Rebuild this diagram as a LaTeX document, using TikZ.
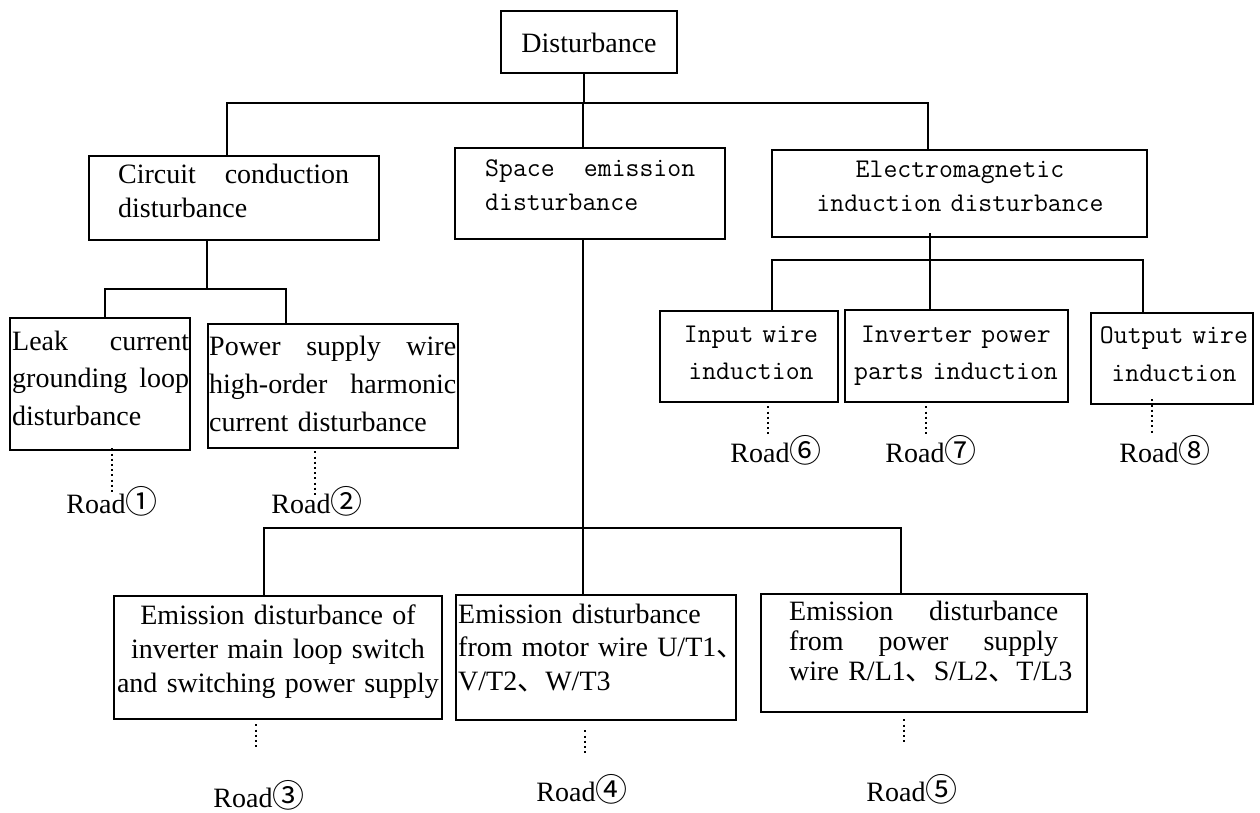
\documentclass[tikz,border=0pt]{standalone}
\usepackage{fontspec}
\setmainfont{Liberation Serif}
\newfontfamily\cjk{Noto Sans CJK SC}
\newcommand\ideocomma{{\cjk 、}}
\newcommand\cnum[1]{{\cjk\fontsize{32}{32}\selectfont #1}}
% a line spread out to a given width
\newcommand\spread[2]{\leavevmode\hbox to #1pt{#2}}
\begin{document}
\begin{tikzpicture}[x=1pt,y=-1pt,
  box/.style={draw,line width=2.6pt,inner sep=0pt},
  conn/.style={line width=2.8pt},
  dots/.style={line width=2pt,dash pattern=on 2pt off 3.2pt},
  serif/.style={inner sep=0pt,font=\fontsize{28}{#1}\selectfont},
  mono/.style={inner sep=0pt,font=\ttfamily\fontsize{27}{#1}\selectfont},
  road/.style={inner sep=0pt,anchor=base,font=\fontsize{28}{34}\selectfont}]
\fill[white] (0,0) rectangle (1260,813);
\useasboundingbox (0,0) rectangle (1260,813);

% ---------- boxes ----------
\node[box,minimum width=176,minimum height=62]  (dist)  at (589,42)    {};
\node[box,minimum width=290,minimum height=84]  (circ)  at (234,198)   {};
\node[box,minimum width=270,minimum height=91]  (space) at (590,193.5) {};
\node[box,minimum width=375,minimum height=87]  (em)    at (959.5,193.5) {};
\node[box,minimum width=180,minimum height=132] (leak)  at (100,384)   {};
\node[box,minimum width=250,minimum height=124] (power) at (333,386)   {};
\node[box,minimum width=178,minimum height=91]  (inp)   at (749,356.5) {};
\node[box,minimum width=223,minimum height=92]  (inv)   at (956.5,356) {};
\node[box,minimum width=162,minimum height=91]  (outp)  at (1172,358.5) {};
\node[box,minimum width=328,minimum height=123] (eA)    at (278,657.5) {};
\node[box,minimum width=280,minimum height=125] (eB)    at (596,657.5) {};
\node[box,minimum width=326,minimum height=118] (eC)    at (924,653)   {};

% ---------- box texts ----------
\node[serif=34,anchor=base] (dist-t) at (589,53) {Disturbance};
\node[serif=34,anchor=base west,text width=300,align=left] (circ-t) at (118,184)
  {\spread{231}{Circuit\hfill conduction}\\disturbance};
\node[mono=34,anchor=base west,text width=300,align=left] (space-t) at (485,177)
  {\spread{210}{Space\hfill emission}\\disturbance};
\node[mono=34,anchor=base,text width=400,align=center] (em-t) at (960,178)
  {Electromagnetic\\induction disturbance};
\node[serif=37.5,anchor=base west,text width=300,align=left] (leak-t) at (12,350)
  {\spread{177}{Leak\hfill current}\\\spread{177}{grounding\hfill loop}\\disturbance};
\node[serif=38,anchor=base west,text width=300,align=left] (power-t) at (209,355)
  {\spread{247}{Power\hfill supply\hfill wire}\\\spread{247}{high-order\hfill harmonic}\\current disturbance};
\node[mono=37,anchor=base,text width=300,align=center] (inp-t) at (751,342)
  {Input wire\\induction};
\node[mono=37,anchor=base,text width=300,align=center] (inv-t) at (956,342)
  {Inverter power\\parts induction};
\node[mono=38,anchor=base,text width=300,align=center] (outp-t) at (1174,343)
  {Output wire\\induction};
\node[serif=34,anchor=base,text width=400,align=center] (eA-t) at (278,624)
  {Emission disturbance of\\inverter main loop switch\\and switching power supply};
\node[serif=33.5,anchor=base west,text width=400,align=left] (eB-t) at (458,623)
  {Emission disturbance\\from motor wire U/T1\ideocomma\\V/T2\ideocomma W/T3};
\node[serif=30,anchor=base west,text width=400,align=left] (eC-t) at (789,620)
  {\spread{269}{Emission\hfill disturbance}\\\spread{269}{from\hfill power\hfill supply}\\wire R/L1\ideocomma S/L2\ideocomma T/L3};

% ---------- road labels ----------
\node[road] (r1) at (112,513) {Road\cnum{①}};
\node[road] (r2) at (317,513) {Road\cnum{②}};
\node[road] (r3) at (259,807) {Road\cnum{③}};
\node[road] (r4) at (582,801) {Road\cnum{④}};
\node[road] (r5) at (912,801) {Road\cnum{⑤}};
\node[road] (r6) at (776,462) {Road\cnum{⑥}};
\node[road] (r7) at (931,462) {Road\cnum{⑦}};
\node[road] (r8) at (1165,462) {Road\cnum{⑧}};

% ---------- bus junctions ----------
\coordinate (top)  at (584,103);
\coordinate (topL) at (227,103);
\coordinate (topR) at (928,103);
\coordinate (spX)  at (583,103);
\coordinate (ccJ)  at (207,289);
\coordinate (ccL)  at (105,289);
\coordinate (ccR)  at (286,289);
\coordinate (emJ)  at (930,260);
\coordinate (emL)  at (772,260);
\coordinate (emR)  at (1143,260);
\coordinate (loJ)  at (583,528);
\coordinate (loL)  at (264,528);
\coordinate (loR)  at (901,528);

% ---------- solid connectors ----------
\draw[conn] (dist.south -| top) -- (top);
\draw[conn] (topL |- circ.north) -- (topL) -- (topR) -- (topR |- em.north);
\draw[conn] (spX) -- (spX |- space.north);
\draw[conn] (loJ |- space.south) -- (loJ) -- (loJ |- eB.north);
\draw[conn] (loL |- eA.north) -- (loL) -- (loR) -- (loR |- eC.north);
\draw[conn] (ccJ |- circ.south) -- (ccJ);
\draw[conn] (ccL |- leak.north) -- (ccL) -- (ccR) -- (ccR |- power.north);
\draw[conn] ([yshift=5pt]emJ |- em.south) -- (emJ) -- (emJ |- inv.north);
\draw[conn] (emL |- inp.north) -- (emL) -- (emR) -- (emR |- outp.north);

% ---------- dotted leaders to the road labels ----------
\coordinate (d1) at (112,493);
\coordinate (d2) at (315,497);
\coordinate (d3) at (256,748);
\coordinate (d4) at (585,753);
\coordinate (d5) at (904,743);
\coordinate (d6) at (768,437);
\coordinate (d7) at (926,437);
\coordinate (d8) at (1152,435);
\draw[dots] ([yshift=3pt]d1 |- leak.south) -- (d1);
\draw[dots] ([yshift=-2pt]d2 |- power.south) -- (d2);
\draw[dots] ([yshift=-4pt]d3 |- eA.south) -- (d3);
\draw[dots] ([yshift=-9pt]d4 |- eB.south) -- (d4);
\draw[dots] ([yshift=-6pt]d5 |- eC.south) -- (d5);
\draw[dots] ([yshift=-3pt]d6 |- inp.south) -- (d6);
\draw[dots] ([yshift=-3pt]d7 |- inv.south) -- (d7);
\draw[dots] ([yshift=6pt]d8 |- outp.south) -- (d8);
\end{tikzpicture}
\end{document}
